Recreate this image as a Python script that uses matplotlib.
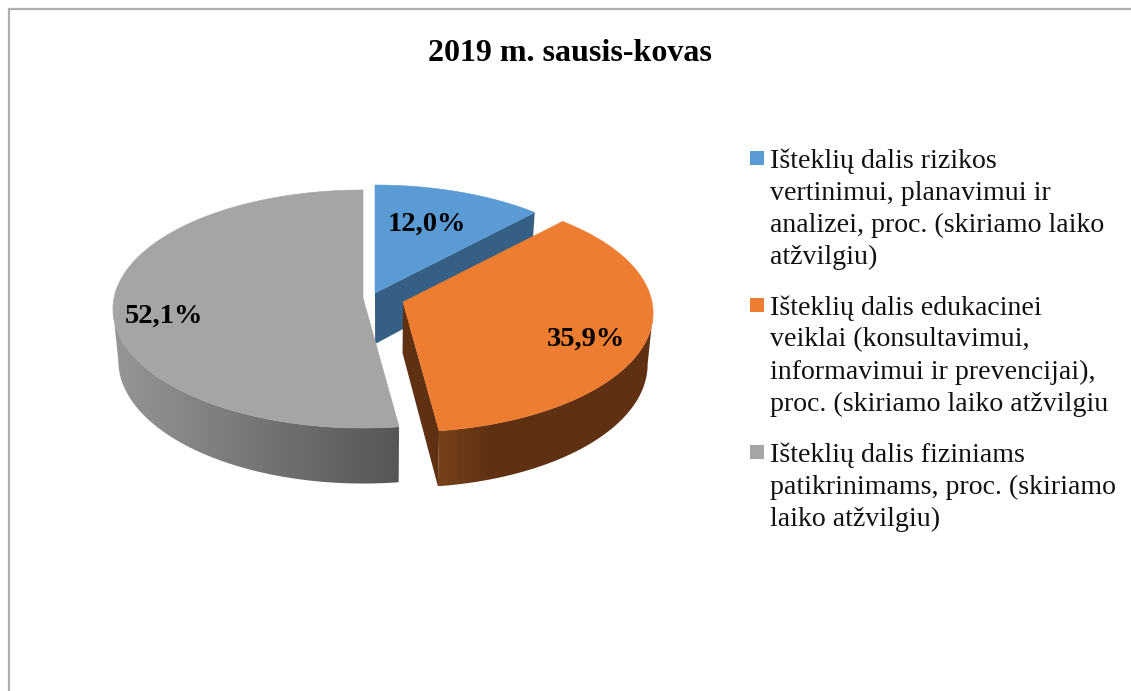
import numpy as np
import matplotlib
matplotlib.use('Agg')
import matplotlib.pyplot as plt
from matplotlib.colors import to_rgb
from matplotlib.patches import Polygon

plt.rcParams['font.family'] = ['Liberation Serif', 'DejaVu Serif']

TITLE = '2019 m. sausis-kovas'
SHARES = [12.0, 35.9, 52.1]
LEGEND_LABELS = [
    'Išteklių dalis rizikos\nvertinimui, planavimui ir\nanalizei, proc. (skiriamo laiko\natžvilgiu)',
    'Išteklių dalis edukacinei\nveiklai (konsultavimui,\ninformavimui ir prevencijai),\nproc. (skiriamo laiko atžvilgiu',
    'Išteklių dalis fiziniams\npatikrinimams, proc. (skiriamo\nlaiko atžvilgiu)',
]
TOP_COLORS = ['#5b9bd5', '#ed7d31', '#a5a5a5']
FACE_COLORS = ['#365f85', '#5f3112', '#565656']
# wall colour at left and right end of each slice's visible wall
WALL_LEFT = ['#365f85', '#76421a', '#969696']
WALL_RIGHT = ['#365f85', '#5f3112', '#565656']

# pixel layout of the exploded slices
CENTERS = [(375, 293), (403, 302), (363, 298)]
LABEL_POS = [(427, 224), (586, 339), (164, 316)]
LEGEND_Y = [158, 305, 452]
RX, RY, PERSP = 249, 118, 0.0925
MID_X = 380


def project(cx, cy, t, r=1.0):
    u, v = r * np.sin(t), r * np.cos(t)
    w = 1 + PERSP * v
    return cx + RX * u / w, cy - RY * v / w


def lower(x, y, t, r=1.0):
    depth = 51 - 4.5 * r * np.cos(t)
    return MID_X + 0.98 * (x - MID_X), y + depth


def mix(c1, c2, f):
    c1, c2 = np.array(to_rgb(c1)), np.array(to_rgb(c2))
    return c1 + (c2 - c1) * f


def draw_wall(ax, i, ts, xs, ys):
    # keep only the front part, from the widest point of the slice to its end
    if i == 1:
        keep = ts >= ts[np.argmax(xs)]
    else:
        keep = ts <= ts[np.argmin(xs)]
    ts, xs, ys = ts[keep], xs[keep], ys[keep]
    bx, by = lower(xs, ys, ts)

    # horizontal shading, clipped to the wall outline
    xmin, xmax = min(xs.min(), bx.min()), max(xs.max(), bx.max())
    ymin, ymax = min(ys.min(), by.min()), max(ys.max(), by.max())
    f = np.linspace(0, 1, 300)
    if i == 1:
        f = np.minimum(1, f / 0.25)
    grad = np.array([[mix(WALL_LEFT[i], WALL_RIGHT[i], v) for v in f]])
    outline = Polygon(np.c_[np.r_[xs, bx[::-1]], np.r_[ys, by[::-1]]],
                      transform=ax.transData, fc='none', lw=0)
    ax.add_patch(outline)
    img = ax.imshow(grad, extent=[xmin, xmax, ymax, ymin], aspect='auto',
                    interpolation='bilinear')
    img.set_clip_path(outline)


def draw_slice(ax, i, t0, t1):
    cx, cy = CENTERS[i]
    ts = np.linspace(t0, t1, 200)
    xs, ys = project(cx, cy, ts)

    # blue shows only its cut face, grey only its outer wall
    if i != 2:
        ex, ey = project(cx, cy, t1)
        fx, fy = lower(ex, ey, t1)
        tbx, tby = lower(cx, cy, 0, 0)
        ax.fill([cx, ex, fx, tbx], [cy, ey, fy, tby], color=FACE_COLORS[i], lw=0)
    if i != 0:
        draw_wall(ax, i, ts, xs, ys)

    ax.fill(np.r_[cx, xs], np.r_[cy, ys], color=TOP_COLORS[i], lw=0.4)


fig = plt.figure(figsize=(11.31, 6.91), dpi=100)
ax = fig.add_axes([0, 0, 1, 1])
ax.axis('off')

# chart frame, cropped at right and bottom
ax.plot([8.5, 8.5, 1131], [691, 8.5, 8.5], color='#aeaeae', lw=1.6,
        solid_joinstyle='miter')

edges = np.r_[0, np.cumsum(SHARES)] / sum(SHARES) * 2 * np.pi
for i in [0, 2, 1]:
    draw_slice(ax, i, edges[i], edges[i + 1])

for share, (x, y) in zip(SHARES, LABEL_POS):
    ax.text(x, y, f'{share:.1f}%'.replace('.', ','), ha='center', va='center',
            fontsize=20.5, fontweight='bold', color='black')

ax.text(570, 53, TITLE, ha='center', va='center', fontsize=23,
        fontweight='bold', color='black')

for label, y, col in zip(LEGEND_LABELS, LEGEND_Y, TOP_COLORS):
    ax.scatter([757], [y], marker='s', s=100, color=col, lw=0)
    ax.text(770, y - 10, label, ha='left', va='top', fontsize=20.1,
            linespacing=1.37, color='#111111')

ax.set_xlim(0, 1131)
ax.set_ylim(691, 0)

fig.savefig('out.png', dpi=100)
